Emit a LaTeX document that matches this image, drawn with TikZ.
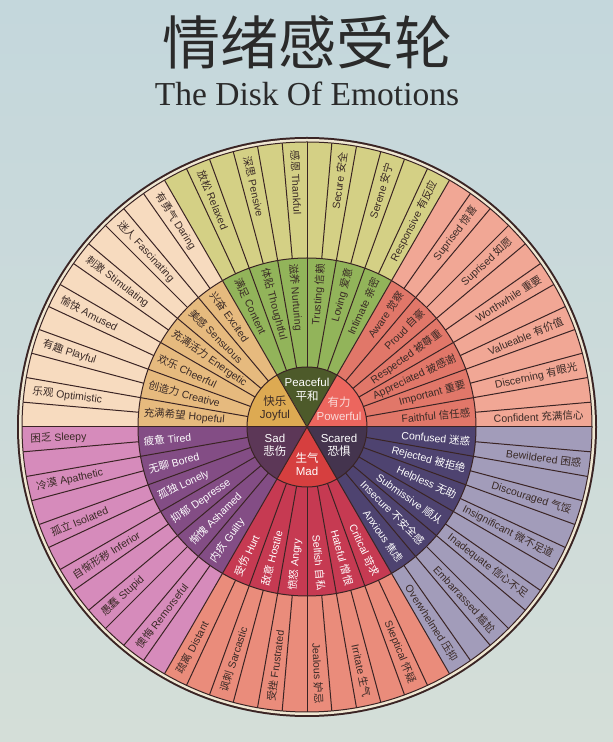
\documentclass[tikz,border=0pt]{standalone}
\usepackage{fontspec}
\setmainfont{Liberation Sans}
\newfontfamily\cjk{Noto Sans CJK SC}
\newfontfamily\titleserif{Liberation Serif}
\usetikzlibrary{calc}
\definecolor{BgTop}{HTML}{C4D7DC}
\definecolor{BgBottom}{HTML}{D4DED8}
\definecolor{Ink}{HTML}{2A2A2A}
\definecolor{Spoke}{HTML}{3A2424}
\definecolor{Rim}{HTML}{EFE7D2}
\definecolor{LabelDark}{HTML}{3A2A26}
\definecolor{JoyOut}{HTML}{F7DBBF}
\definecolor{JoyMid}{HTML}{E6BA7E}
\definecolor{JoyCore}{HTML}{DDAA52}
\definecolor{PeaceOut}{HTML}{D4D085}
\definecolor{PeaceMid}{HTML}{92B45A}
\definecolor{PeaceCore}{HTML}{4D5A2A}
\definecolor{PowOut}{HTML}{F1A795}
\definecolor{PowMid}{HTML}{E17769}
\definecolor{PowCore}{HTML}{EC665E}
\definecolor{ScOut}{HTML}{A29CBA}
\definecolor{ScMid}{HTML}{4E4370}
\definecolor{ScCore}{HTML}{44344E}
\definecolor{MadOut}{HTML}{EA8C7B}
\definecolor{MadMid}{HTML}{C63A52}
\definecolor{MadCore}{HTML}{D63F3F}
\definecolor{SadOut}{HTML}{D68BBB}
\definecolor{SadMid}{HTML}{834D85}
\definecolor{SadCore}{HTML}{5C3757}

\def\Rcore{60pt}
\def\Rmid{169pt}
\def\Rout{285pt}

% radial label: text always runs with the Chinese at the outer end
\newcommand\wheeltext[6]{%
  \pgfmathtruncatemacro\isleft{and(#2>90,#2<270)}%
  \ifnum\isleft=1
    \node[#4,anchor=west,rotate=#2-180] (#1) at (#2:#3) {{\cjk #6} #5};%
  \else
    \node[#4,anchor=east,rotate=#2] (#1) at (#2:#3) {#5 {\cjk #6}};%
  \fi}

\begin{document}
\begin{tikzpicture}[x=1pt,y=1pt,
  sep/.style={draw=Spoke,line width=1pt},
  outlbl/.style={font=\fontsize{10.5}{12}\selectfont,text=LabelDark,inner sep=0pt},
  midlbl/.style={font=\fontsize{10.5}{12}\selectfont,inner sep=0pt},
  corelbl/.style={font=\fontsize{11.5}{13.5}\selectfont,align=center,inner sep=0pt}]
  \shade[top color=BgTop,bottom color=BgBottom] (0,0) rectangle (613,742);
  \useasboundingbox (0,0) rectangle (613,742);

  \node[font=\cjk\fontsize{58}{60}\selectfont,text=Ink] (title) at (307,700) {情绪感受轮};
  \node[font=\titleserif\fontsize{33.5}{36}\selectfont,text=Ink] (subtitle) at (307,648) {The Disk Of Emotions};

  \begin{scope}[shift={(307,315)}]
    % rim
    \fill[Spoke] (0,0) circle[radius=290pt];
    \fill[Rim] (0,0) circle[radius=288pt];
    % sectors, one 60 degree group at a time
    \foreach \g/\co/\cm/\cc in {0/PowOut/PowMid/PowCore,60/PeaceOut/PeaceMid/PeaceCore,
        120/JoyOut/JoyMid/JoyCore,180/SadOut/SadMid/SadCore,
        240/MadOut/MadMid/MadCore,300/ScOut/ScMid/ScCore}{
      \fill[\co] (0,0) -- (\g:\Rout) arc[start angle=\g,end angle=\g+60,radius=\Rout] -- cycle;
      \fill[\cm] (0,0) -- (\g:\Rmid) arc[start angle=\g,end angle=\g+60,radius=\Rmid] -- cycle;
      \fill[\cc] (0,0) -- (\g:\Rcore) arc[start angle=\g,end angle=\g+60,radius=\Rcore] -- cycle;
    }
    \foreach \a in {0,5,...,355} \draw[sep] (\a:\Rmid) -- (\a:\Rout);
    \foreach \a in {0,10,...,350} \draw[sep] (\a:\Rcore) -- (\a:\Rmid);
    \foreach \a in {0,60,...,300} \draw[sep] (0,0) -- (\a:\Rcore);
    \draw[sep] (0,0) circle[radius=\Rcore];
    \draw[sep] (0,0) circle[radius=\Rmid];
    \draw[sep] (0,0) circle[radius=\Rout];

    % outer ring
    \foreach \a/\en/\zh in {0/Confident/充满信心,10/Discerning/有眼光,20/Valueable/有价值,
        30/Worthwhile/重要,40/Suprised/如愿,50/Suprised/惊喜,
        60/Responsive/有反应,70/Serene/安宁,80/Secure/安全,90/Thankful/感恩,
        100/Pensive/深思,110/Relaxed/放松,
        120/Daring/有勇气,130/Fascinating/迷人,140/Stimulating/刺激,150/Amused/愉快,
        160/Playful/有趣,170/Optimistic/乐观,
        180/Sleepy/困乏,190/Apathetic/冷漠,200/Isolated/孤立,210/Inferior/自惭形秽,
        220/Stupid/愚蠢,230/Remorseful/懊悔,
        240/Distant/疏离,250/Sarcastic/讽刺,260/Frustrated/受挫,270/Jealous/妒忌,
        280/Irritate/生气,290/Skeptical/怀疑,
        300/Overwhelmed/压抑,310/Embarrassed/尴尬,320/Inadequate/信心不足,
        330/Insignificant/微不足道,340/Discouraged/气馁,350/Bewildered/困惑}{
      \pgfmathsetmacro\c{\a+2.5}
      \wheeltext{out\a}{\c}{277pt}{outlbl}{\en}{\zh}
    }

    % middle ring
    \foreach \a/\en/\zh/\tc in {0/Faithful/信任感/LabelDark,10/Important/重要/LabelDark,
        20/Appreciated/被感谢/LabelDark,30/Respected/被尊重/LabelDark,
        40/Proud/自豪/LabelDark,50/Aware/觉察/LabelDark,
        60/Intimate/亲密/LabelDark,70/Loving/爱意/LabelDark,80/Trusting/信赖/LabelDark,
        90/Nurturing/滋养/LabelDark,100/Thoughtful/体贴/LabelDark,110/Content/满足/LabelDark,
        120/Excited/兴奋/LabelDark,130/Sensuous/美感/LabelDark,140/Energetic/充满活力/LabelDark,
        150/Cheerful/欢乐/LabelDark,160/Creative/创造力/LabelDark,170/Hopeful/充满希望/LabelDark,
        180/Tired/疲惫/white,190/Bored/无聊/white,200/Lonely/孤独/white,
        210/Depresse/抑郁/white,220/Ashamed/惭愧/white,230/Guilty/内疚/white,
        240/Hurt/受伤/white,250/Hostile/敌意/white,260/Angry/愤怒/white,
        270/Selfish/自私/white,280/Hateful/憎恨/white,290/Critical/苛求/white,
        300/Anxious/焦虑/white,310/Insecure/不安全感/white,320/Submissive/顺从/white,
        330/Helpless/无助/white,340/Rejected/被拒绝/white,350/Confused/迷惑/white}{
      \pgfmathsetmacro\c{\a+5}
      \wheeltext{mid\a}{\c}{164pt}{midlbl,text=\tc}{\en}{\zh}
    }

    % core
    \node[corelbl,text=PowCore!25] (powerful) at (30:37) {{\cjk 有力}\\Powerful};
    \node[corelbl,text=white] (peaceful) at (90:37) {Peaceful\\{\cjk 平和}};
    \node[corelbl,text=LabelDark] (joyful) at (150:37) {{\cjk 快乐}\\Joyful};
    \node[corelbl,text=white] (sad) at (210:37) {Sad\\{\cjk 悲伤}};
    \node[corelbl,text=white] (mad) at (270:37) {{\cjk 生气}\\Mad};
    \node[corelbl,text=white] (scared) at (330:37) {Scared\\{\cjk 恐惧}};
  \end{scope}
\end{tikzpicture}
\end{document}
